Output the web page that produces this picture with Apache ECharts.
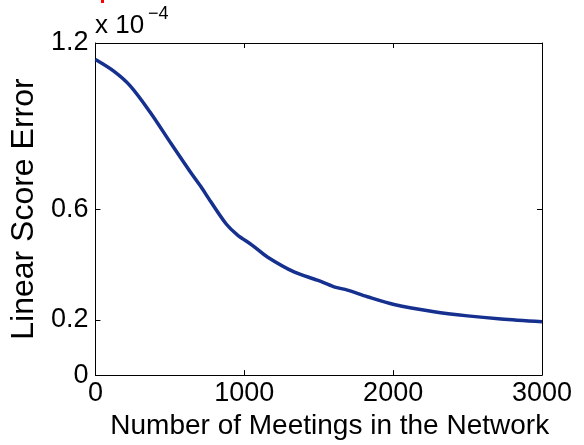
<!DOCTYPE html>
<html>
<head>
<meta charset="utf-8">
<script src="https://cdn.jsdelivr.net/npm/echarts@6/dist/echarts.min.js"></script>
<style>
  html, body { margin: 0; padding: 0; background: #fff; }
  #chart { width: 584px; height: 445px; }
</style>
</head>
<body>
<div id="chart"></div>
<script>
// meetings in the network vs. linear score error (x 1e-4)
const meetings = [0, 123, 235, 370, 504, 639, 706, 773, 880, 953, 1054, 1155, 1334, 1491, 1603, 1693, 1827, 2006, 2275, 2500, 2724, 3000]
const scoreError = [1.14, 1.098, 1.044, 0.948, 0.84, 0.733, 0.683, 0.628, 0.545, 0.507, 0.469, 0.427, 0.373, 0.343, 0.319, 0.307, 0.283, 0.255, 0.229, 0.214, 0.203, 0.193]
const yTicks = [0, 0.2, 0.6, 1.2]

const chart = echarts.init(document.getElementById('chart'), null, { renderer: 'canvas' })

const font = 'Liberation Sans, Arial, sans-serif'
const axisLine = { show: true, onZero: false, lineStyle: { color: '#000', width: 1 } }
const tick = { inside: true, length: 5, lineStyle: { color: '#000' } }

chart.setOption({
  animation: false,
  textStyle: { fontFamily: font },
  grid: { left: 95, right: 42, top: 43, bottom: 68, containLabel: false },
  graphic: [{
    type: 'text',
    left: 95,
    top: 13,
    style: { text: 'x 10', font: '26px ' + font, fill: '#000' }
  }, {
    type: 'text',
    left: 148,
    top: 5,
    style: { text: '\u22124', font: '18px ' + font, fill: '#000' }
  }, {
    type: 'rect',
    left: 101,
    top: 0,
    shape: { width: 3, height: 3 },
    style: { fill: '#ff0000' }
  }],
  xAxis: [{
    type: 'value',
    min: 0,
    max: 3000,
    interval: 1000,
    axisLine,
    axisTick: tick,
    splitLine: { show: false },
    axisLabel: { color: '#000', fontSize: 27, margin: 5, fontFamily: font, formatter: v => String(v) },
    name: 'Number of Meetings in the Network',
    nameLocation: 'middle',
    nameGap: 33,
    nameTextStyle: { color: '#000', fontSize: 28, fontFamily: font, padding: [0, 0, 0, 22] }
  }, {
    type: 'value',
    position: 'top',
    min: 0,
    max: 3000,
    interval: 1000,
    axisLine,
    axisTick: tick,
    axisLabel: { show: false },
    splitLine: { show: false }
  }],
  yAxis: [{
    type: 'value',
    min: 0,
    max: 1.2,
    axisLine,
    axisTick: { ...tick, customValues: yTicks },
    splitLine: { show: false },
    axisLabel: { color: '#000', fontSize: 27, margin: 7, fontFamily: font, customValues: yTicks },
    name: 'Linear Score Error',
    nameLocation: 'middle',
    nameGap: 54,
    nameTextStyle: { color: '#000', fontSize: 32, fontFamily: font }
  }, {
    type: 'value',
    position: 'right',
    min: 0,
    max: 1.2,
    axisLine,
    axisTick: { ...tick, customValues: yTicks },
    axisLabel: { show: false },
    splitLine: { show: false }
  }],
  series: [{
    type: 'line',
    data: meetings.map((m, i) => [m, scoreError[i]]),
    showSymbol: false,
    smooth: 0.3,
    lineStyle: { color: '#15308e', width: 3.5 }
  }]
})
</script>
</body>
</html>
